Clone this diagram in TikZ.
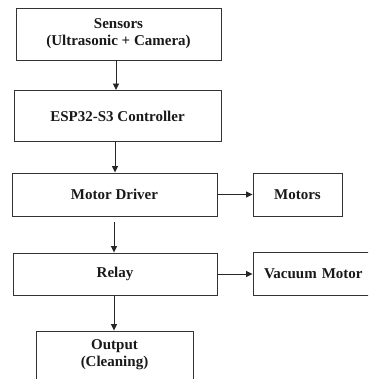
\documentclass[tikz,border=0pt]{standalone}
\usepackage{fontspec}
\setmainfont{Liberation Serif}
\usetikzlibrary{arrows.meta}
\begin{document}
\begin{tikzpicture}[x=1pt,y=-1pt,
  blk/.style={draw=black!80,line width=0.9pt,rectangle,inner sep=0pt,align=center,
    font=\bfseries\fontsize{15}{17}\selectfont,text=black!90},
  conn/.style={draw=black!85,line width=0.9pt,-{Triangle[length=6.5pt,width=6pt]}}]
\useasboundingbox (0,0) rectangle (368,379);
\clip (0,0) rectangle (368,379);
\node[blk,minimum width=205pt,minimum height=52pt] (sens) at (118.5,34) {Sensors\\(Ultrasonic + Camera)};
\node[blk,minimum width=207pt,minimum height=51pt] (esp) at (117.5,116) {ESP32-S3 Controller};
\node[blk,minimum width=205pt,minimum height=43pt] (md) at (114.5,194.5) {Motor Driver};
\node[blk,minimum width=89pt,minimum height=43pt] (mot) at (297.5,194.5) {Motors};
\node[blk,minimum width=118pt,minimum height=43pt] (rel) at (115,274) [minimum width=204pt,minimum height=42pt] {Relay};
\node[blk,minimum width=118pt,minimum height=43pt,text width=114pt,align=left] (vac) at (312,274) {\hspace{9pt}Vacuum Motor};
\node[blk,minimum width=157pt,minimum height=56pt] (out) at (114.5,359) {};
\node[font=\bfseries\fontsize{15}{17}\selectfont,align=center,text=black!90] (outt) at (114.5,355) {Output\\(Cleaning)};
\draw[conn] (sens.south -| 116,0) -- (esp.north -| 116,0);
\draw[conn] (esp.south -| 115,0) -- (md.north -| 115,0);
\draw[conn] (md.east) -- (mot.west);
\draw[conn] (114,222) coordinate (a) -- (rel.north -| a);
\draw[conn] (rel.east) -- (vac.west);
\draw[conn] (rel.south -| 114,0) -- (out.north -| 114,0);
\end{tikzpicture}
\end{document}
